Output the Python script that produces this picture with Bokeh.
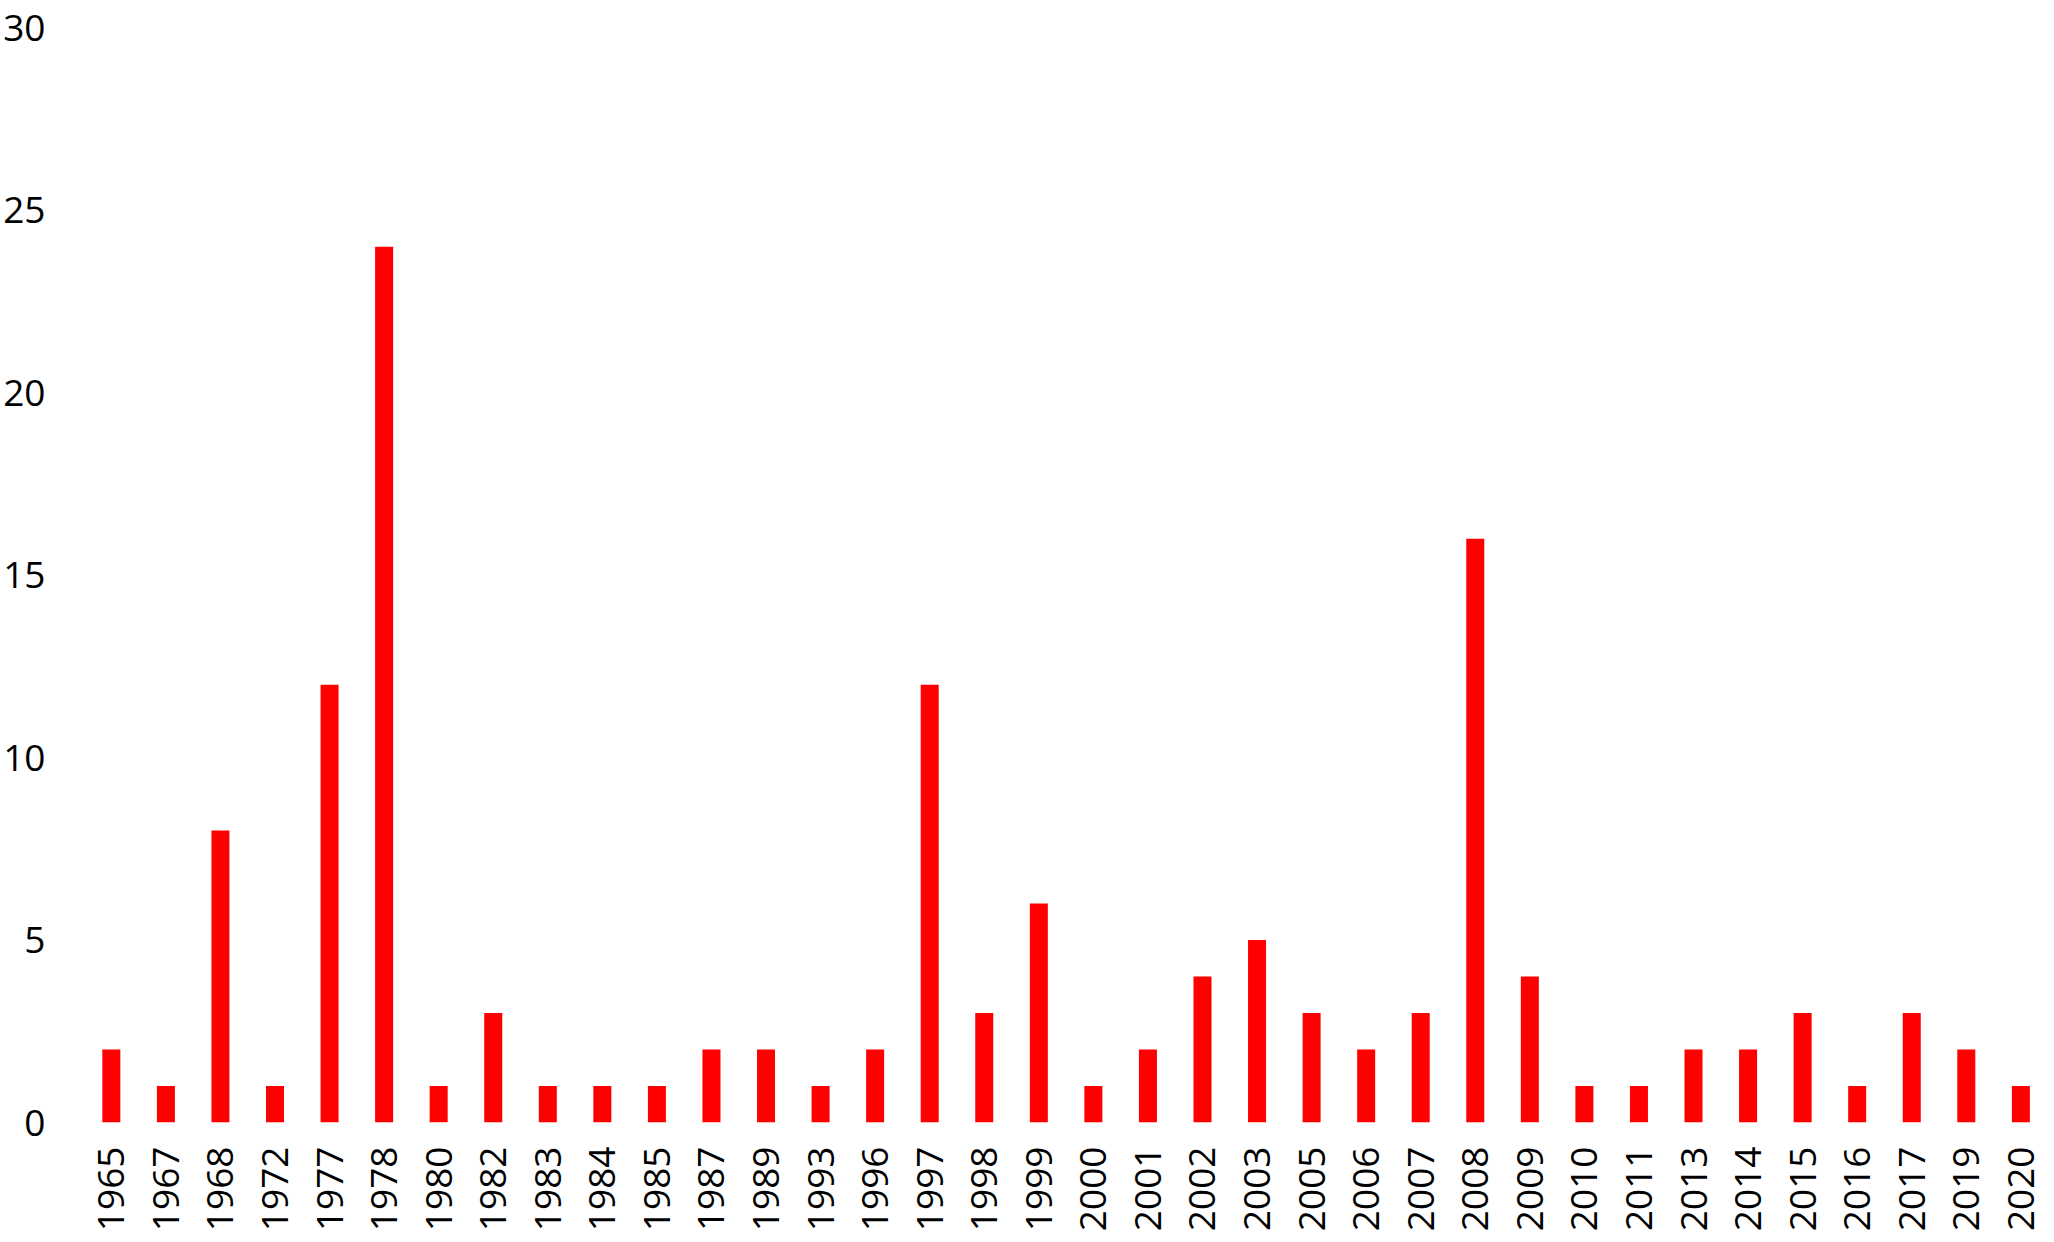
import math
from bokeh.plotting import figure
from bokeh.models import Range1d, FixedTicker, ColumnDataSource
from bokeh.embed import file_html
from bokeh.resources import INLINE

years = ["1965", "1967", "1968", "1972", "1977", "1978", "1980", "1982", "1983", "1984",
         "1985", "1987", "1989", "1993", "1996", "1997", "1998", "1999", "2000", "2001",
         "2002", "2003", "2005", "2006", "2007", "2008", "2009", "2010", "2011", "2013",
         "2014", "2015", "2016", "2017", "2019", "2020"]
counts = [2, 1, 8, 1, 12, 24, 1, 3, 1, 1,
          1, 2, 2, 1, 2, 12, 3, 6, 1, 2,
          4, 5, 3, 2, 3, 16, 4, 1, 1, 2,
          2, 3, 1, 3, 2, 1]
y_ticks = [0, 5, 10, 15, 20, 25, 30]

pos = list(range(len(years)))
src = ColumnDataSource(dict(x=pos, top=counts, year=years))

FONT = "Open Sans"
FS = "37px"

p = figure(width=2046, height=1234, output_backend="svg", toolbar_location=None,
           x_range=Range1d(-0.95, len(years) - 1 + 0.47),
           y_range=Range1d(0, 30.75),
           min_border_left=0, min_border_right=0, min_border_top=0, min_border_bottom=0)

p.vbar(x="x", top="top", width=0.33, bottom=0, source=src,
       fill_color="#ff0000", line_color=None)

p.outline_line_color = None
p.background_fill_color = "white"
p.border_fill_color = "white"
p.xgrid.grid_line_color = None
p.ygrid.grid_line_color = None

p.xaxis.ticker = FixedTicker(ticks=pos)
p.xaxis.major_label_overrides = {i: y for i, y in enumerate(years)}
p.xaxis.major_label_orientation = math.pi / 2
p.xaxis.axis_line_color = None
p.xaxis.major_tick_line_color = None
p.xaxis.minor_tick_line_color = None
p.xaxis.major_tick_out = 0
p.xaxis.major_tick_in = 0
p.xaxis.major_label_standoff = 24
p.xaxis.major_label_text_font = FONT
p.xaxis.major_label_text_font_size = FS
p.xaxis.major_label_text_color = "black"

p.yaxis.ticker = FixedTicker(ticks=y_ticks)
p.yaxis.axis_line_color = None
p.yaxis.major_tick_line_color = None
p.yaxis.minor_tick_line_color = None
p.yaxis.major_tick_out = 0
p.yaxis.major_tick_in = 0
p.yaxis.major_label_standoff = 14
p.yaxis.major_label_text_font = FONT
p.yaxis.major_label_text_font_size = FS
p.yaxis.major_label_text_color = "black"

open("out.html", "w").write(file_html(p, INLINE))
